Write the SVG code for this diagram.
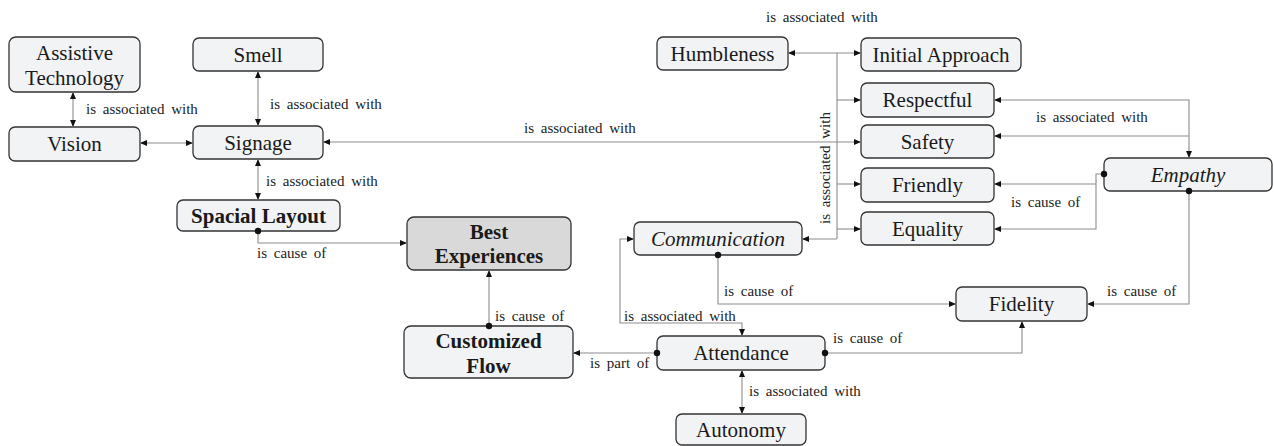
<svg xmlns="http://www.w3.org/2000/svg" width="1274" height="446" viewBox="0 0 1274 446" font-family="'Liberation Serif','Times New Roman',Tinos,'DejaVu Serif',serif">
<style>
text{font-family:'Liberation Serif','Times New Roman',Tinos,'DejaVu Serif',serif}
.n rect{fill:#f2f3f5;stroke:#333;stroke-width:1.3}
.n text{font-size:21px;fill:#1a1a1a;text-anchor:middle}
.b text{font-weight:bold}
.i text{font-style:italic}
#best rect{fill:#d9d9d9}
.c path{fill:none;stroke:#8c8c8c;stroke-width:1.1}
.l{font-size:15px;fill:#222;word-spacing:3px}
</style>
<defs>
<marker id="a" markerUnits="userSpaceOnUse" markerWidth="8" markerHeight="8" refX="7" refY="3" orient="auto-start-reverse"><path d="M0,0L7,3L0,6z" fill="#111"/></marker>
<marker id="d" markerUnits="userSpaceOnUse" markerWidth="8" markerHeight="8" refX="4" refY="4" orient="auto"><circle cx="4" cy="4" r="3.2" fill="#111"/></marker>
</defs>
<g class="n" id="assistive"><rect x="9" y="37" width="131" height="55" rx="7"/><text x="74.5" y="60">Assistive</text><text x="74.5" y="85">Technology</text></g>
<g class="n" id="smell"><rect x="193" y="38" width="130" height="33" rx="6"/><text x="258" y="62">Smell</text></g>
<g class="n" id="vision"><rect x="9" y="127" width="131" height="34" rx="6"/><text x="74.5" y="151">Vision</text></g>
<g class="n" id="signage"><rect x="193" y="126" width="130" height="33" rx="6"/><text x="258" y="150">Signage</text></g>
<g class="n b" id="spacial"><rect x="177" y="200" width="163" height="31" rx="6"/><text x="258.5" y="223">Spacial Layout</text></g>
<g class="n b" id="best"><rect x="407" y="217" width="164" height="53" rx="7"/><text x="489" y="239">Best</text><text x="489" y="263">Experiences</text></g>
<g class="n b" id="customized"><rect x="404" y="326" width="169" height="52" rx="7"/><text x="488.5" y="348">Customized</text><text x="488.5" y="373">Flow</text></g>
<g class="n i" id="communication"><rect x="634" y="222" width="168" height="33" rx="6"/><text x="718" y="246">Communication</text></g>
<g class="n" id="attendance"><rect x="657" y="336" width="168" height="34" rx="6"/><text x="741" y="360">Attendance</text></g>
<g class="n" id="autonomy"><rect x="676" y="414" width="130" height="31" rx="6"/><text x="741" y="437">Autonomy</text></g>
<g class="n" id="humbleness"><rect x="657" y="37" width="131" height="33" rx="6"/><text x="722.5" y="61">Humbleness</text></g>
<g class="n" id="initial"><rect x="861" y="38" width="160" height="33" rx="6"/><text x="941" y="62">Initial Approach</text></g>
<g class="n" id="respectful"><rect x="861" y="83" width="133" height="34" rx="6"/><text x="927.5" y="107">Respectful</text></g>
<g class="n" id="safety"><rect x="861" y="125" width="133" height="33" rx="6"/><text x="927.5" y="149">Safety</text></g>
<g class="n" id="friendly"><rect x="861" y="168" width="133" height="34" rx="6"/><text x="927.5" y="192">Friendly</text></g>
<g class="n" id="equality"><rect x="861" y="212" width="133" height="33" rx="6"/><text x="927.5" y="236">Equality</text></g>
<g class="n i" id="empathy"><rect x="1104" y="158" width="168" height="33" rx="6"/><text x="1188" y="182">Empathy</text></g>
<g class="n" id="fidelity"><rect x="956" y="287" width="131" height="34" rx="6"/><text x="1021.5" y="311">Fidelity</text></g>
<g class="c" id="connectors">
<path d="M73,92V127" marker-start="url(#a)" marker-end="url(#a)"/>
<path d="M258,71V126" marker-start="url(#a)" marker-end="url(#a)"/>
<path d="M140,143H193" marker-start="url(#a)" marker-end="url(#a)"/>
<path d="M323,142H861" marker-start="url(#a)" marker-end="url(#a)"/>
<path d="M258,159V200" marker-start="url(#a)" marker-end="url(#a)"/>
<path d="M258,231V243H407" marker-start="url(#d)" marker-end="url(#a)"/>
<path d="M489,326V270" marker-start="url(#d)" marker-end="url(#a)"/>
<path d="M657,353H573" marker-start="url(#d)" marker-end="url(#a)"/>
<path d="M634,239H620V323H742V336" marker-start="url(#a)" marker-end="url(#a)"/>
<path d="M718,255V304H956" marker-start="url(#d)" marker-end="url(#a)"/>
<path d="M825,353H1022V321" marker-start="url(#d)" marker-end="url(#a)"/>
<path d="M742,370V414" marker-start="url(#a)" marker-end="url(#a)"/>
<path d="M1189,191V304H1087" marker-start="url(#d)" marker-end="url(#a)"/>
<path d="M1104,174H1096V229H994" marker-start="url(#d)" marker-end="url(#a)"/>
<path d="M1096,184H994" marker-end="url(#a)"/>
<path d="M994,100H1189V158" marker-start="url(#a)" marker-end="url(#a)"/>
<path d="M994,136H1189" marker-start="url(#a)"/>
<path d="M788,53H861" marker-start="url(#a)" marker-end="url(#a)"/>
<path d="M837,53V239"/>
<path d="M837,100H861" marker-end="url(#a)"/>
<path d="M837,184H861" marker-end="url(#a)"/>
<path d="M837,229H861" marker-end="url(#a)"/>
<path d="M837,239H802" marker-end="url(#a)"/>
</g>
<g id="labels">
<text class="l" x="86" y="114">is associated with</text>
<text class="l" x="270" y="109">is associated with</text>
<text class="l" x="266" y="186">is associated with</text>
<text class="l" x="524" y="133">is associated with</text>
<text class="l" x="766" y="22">is associated with</text>
<text class="l" text-anchor="middle" transform="translate(830,168) rotate(-90)">is associated with</text>
<text class="l" x="1036" y="122">is associated with</text>
<text class="l" x="1011" y="207">is cause of</text>
<text class="l" x="1107" y="296">is cause of</text>
<text class="l" x="724" y="296">is cause of</text>
<text class="l" x="624" y="321">is associated with</text>
<text class="l" x="495" y="321">is cause of</text>
<text class="l" x="590" y="368">is part of</text>
<text class="l" x="833" y="343">is cause of</text>
<text class="l" x="749" y="396">is associated with</text>
<text class="l" x="257" y="258">is cause of</text>
</g>
</svg>
